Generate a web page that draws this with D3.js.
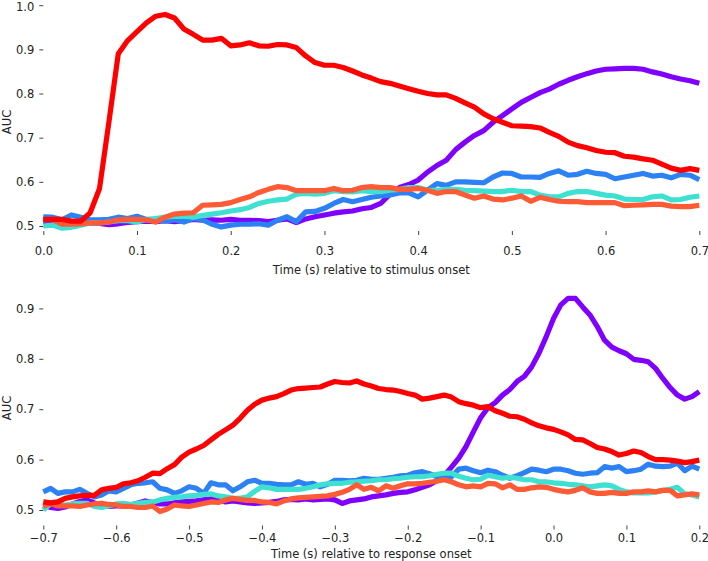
<!DOCTYPE html>
<html><head><meta charset="utf-8">
<script src="https://cdn.jsdelivr.net/npm/d3@7"></script>
<style>
html,body{margin:0;padding:0;background:#fff;}
svg text{font-family:"DejaVu Sans",sans-serif;}
</style></head>
<body><svg id="c" width="708" height="561"></svg>
<script>
// ---------- DATA ----------
const stimStart = 0.0, stimStep = 0.01;
const respStart = -0.7, respStep = 0.01;

const stimPurple = [0.51,0.51,0.508,0.507,0.508,0.507,0.506,0.503,0.505,0.508,0.51,0.511,0.51,0.512,0.51,0.512,0.515,0.513,0.514,0.513,0.515,0.513,0.513,0.512,0.51,0.513,0.516,0.508,0.516,0.521,0.525,0.529,0.532,0.534,0.539,0.542,0.551,0.572,0.587,0.594,0.604,0.622,0.637,0.649,0.673,0.69,0.705,0.716,0.735,0.75,0.765,0.78,0.791,0.802,0.81,0.821,0.83,0.838,0.845,0.851,0.855,0.856,0.857,0.857,0.855,0.849,0.844,0.838,0.833,0.829,0.823];
const stimBlue = [0.521,0.520,0.514,0.525,0.520,0.514,0.514,0.515,0.520,0.517,0.522,0.515,0.515,0.511,0.514,0.509,0.517,0.514,0.504,0.498,0.502,0.504,0.504,0.505,0.502,0.513,0.521,0.510,0.532,0.533,0.540,0.551,0.560,0.555,0.560,0.565,0.568,0.570,0.575,0.575,0.566,0.581,0.596,0.592,0.600,0.600,0.599,0.598,0.611,0.620,0.619,0.611,0.611,0.610,0.619,0.625,0.615,0.617,0.624,0.619,0.617,0.607,0.611,0.615,0.619,0.613,0.615,0.609,0.617,0.615,0.605];
const stimCyan = [0.500,0.502,0.495,0.497,0.502,0.507,0.507,0.509,0.512,0.512,0.509,0.514,0.517,0.520,0.522,0.522,0.520,0.524,0.527,0.530,0.534,0.537,0.542,0.551,0.556,0.559,0.561,0.572,0.574,0.572,0.574,0.580,0.578,0.577,0.580,0.578,0.578,0.581,0.583,0.587,0.587,0.581,0.581,0.583,0.583,0.581,0.580,0.579,0.578,0.578,0.581,0.578,0.578,0.570,0.566,0.566,0.574,0.578,0.578,0.574,0.570,0.568,0.561,0.560,0.560,0.566,0.568,0.559,0.560,0.565,0.568];
const stimOrange = [0.514,0.515,0.504,0.504,0.505,0.507,0.507,0.509,0.514,0.515,0.515,0.514,0.509,0.520,0.527,0.529,0.530,0.547,0.548,0.549,0.553,0.560,0.566,0.576,0.583,0.589,0.587,0.580,0.580,0.580,0.580,0.585,0.580,0.581,0.587,0.589,0.587,0.587,0.583,0.583,0.585,0.581,0.574,0.578,0.578,0.570,0.563,0.568,0.561,0.559,0.563,0.568,0.556,0.565,0.560,0.556,0.555,0.555,0.553,0.553,0.553,0.553,0.546,0.547,0.548,0.549,0.549,0.545,0.544,0.544,0.547];
const stimRed = [0.515,0.515,0.515,0.511,0.511,0.530,0.585,0.735,0.890,0.920,0.940,0.960,0.975,0.979,0.971,0.946,0.934,0.921,0.921,0.925,0.908,0.910,0.915,0.908,0.907,0.911,0.910,0.904,0.885,0.870,0.864,0.864,0.859,0.851,0.842,0.835,0.827,0.823,0.817,0.811,0.805,0.800,0.797,0.797,0.789,0.779,0.769,0.754,0.743,0.735,0.727,0.726,0.725,0.722,0.712,0.703,0.690,0.682,0.677,0.671,0.667,0.666,0.658,0.656,0.652,0.649,0.640,0.631,0.626,0.630,0.626];

const respPurple = [0.51,0.505,0.503,0.506,0.512,0.517,0.52,0.514,0.51,0.507,0.508,0.508,0.51,0.514,0.518,0.515,0.512,0.512,0.514,0.516,0.517,0.518,0.52,0.522,0.52,0.516,0.518,0.516,0.514,0.513,0.514,0.515,0.517,0.52,0.521,0.52,0.522,0.52,0.521,0.522,0.52,0.513,0.518,0.52,0.522,0.526,0.528,0.53,0.533,0.535,0.536,0.54,0.545,0.55,0.558,0.568,0.585,0.603,0.626,0.655,0.683,0.703,0.713,0.728,0.739,0.755,0.765,0.784,0.811,0.844,0.88,0.907,0.92,0.92,0.903,0.887,0.864,0.837,0.823,0.816,0.81,0.799,0.797,0.794,0.781,0.761,0.743,0.728,0.72,0.725,0.735];
const respBlue = [0.536,0.543,0.533,0.536,0.536,0.541,0.533,0.526,0.530,0.538,0.536,0.543,0.550,0.553,0.554,0.556,0.543,0.540,0.533,0.538,0.546,0.543,0.533,0.554,0.550,0.550,0.538,0.546,0.556,0.559,0.553,0.553,0.551,0.550,0.550,0.556,0.551,0.553,0.546,0.551,0.559,0.559,0.558,0.559,0.563,0.561,0.561,0.563,0.565,0.568,0.569,0.574,0.576,0.572,0.566,0.565,0.566,0.581,0.583,0.578,0.574,0.579,0.576,0.569,0.563,0.568,0.574,0.581,0.579,0.576,0.581,0.581,0.578,0.573,0.571,0.573,0.574,0.586,0.583,0.586,0.576,0.578,0.581,0.591,0.587,0.586,0.587,0.593,0.578,0.587,0.581];
const respCyan = [0.500,0.513,0.512,0.510,0.512,0.513,0.513,0.507,0.505,0.508,0.512,0.513,0.511,0.513,0.515,0.516,0.520,0.523,0.525,0.526,0.528,0.529,0.531,0.532,0.528,0.526,0.523,0.523,0.526,0.537,0.546,0.544,0.541,0.541,0.541,0.541,0.543,0.546,0.550,0.552,0.553,0.553,0.555,0.556,0.557,0.558,0.560,0.560,0.562,0.563,0.565,0.566,0.566,0.568,0.571,0.573,0.573,0.567,0.563,0.560,0.561,0.569,0.566,0.563,0.565,0.563,0.560,0.560,0.556,0.556,0.554,0.553,0.551,0.550,0.548,0.546,0.548,0.550,0.548,0.541,0.536,0.534,0.534,0.534,0.536,0.539,0.541,0.545,0.532,0.530,0.526];
const respOrange = [0.507,0.513,0.508,0.508,0.508,0.507,0.510,0.512,0.513,0.511,0.510,0.507,0.507,0.505,0.505,0.508,0.497,0.502,0.510,0.508,0.507,0.510,0.513,0.516,0.515,0.520,0.523,0.521,0.519,0.519,0.516,0.515,0.512,0.518,0.522,0.524,0.525,0.526,0.527,0.528,0.531,0.535,0.541,0.550,0.541,0.545,0.538,0.548,0.543,0.548,0.552,0.552,0.553,0.555,0.557,0.560,0.556,0.550,0.546,0.548,0.546,0.553,0.552,0.544,0.550,0.541,0.541,0.544,0.546,0.545,0.541,0.538,0.536,0.539,0.544,0.536,0.533,0.533,0.535,0.533,0.533,0.536,0.536,0.538,0.536,0.539,0.539,0.528,0.530,0.532,0.530];
const respRed = [0.516,0.514,0.516,0.523,0.526,0.528,0.529,0.529,0.540,0.543,0.545,0.552,0.554,0.558,0.565,0.573,0.572,0.582,0.590,0.605,0.615,0.621,0.628,0.639,0.650,0.659,0.668,0.682,0.698,0.710,0.718,0.722,0.725,0.731,0.738,0.741,0.742,0.743,0.744,0.750,0.755,0.753,0.752,0.756,0.750,0.746,0.741,0.739,0.738,0.735,0.731,0.728,0.720,0.722,0.725,0.728,0.724,0.715,0.711,0.708,0.703,0.705,0.697,0.692,0.686,0.685,0.680,0.673,0.667,0.663,0.660,0.655,0.649,0.640,0.639,0.632,0.624,0.621,0.616,0.609,0.612,0.617,0.614,0.606,0.600,0.600,0.599,0.597,0.594,0.596,0.599];

const seriesColors = ["#8000ff", "#2c82f4", "#3ee0d2", "#ff5a36", "#ff0000"];
const stimTicksX = [0.0,0.1,0.2,0.3,0.4,0.5,0.6,0.7];
const stimTicksY = [0.5,0.6,0.7,0.8,0.9,1.0];
const respTicksX = [-0.7,-0.6,-0.5,-0.4,-0.3,-0.2,-0.1,0.0,0.1,0.2];
const respTicksY = [0.5,0.6,0.7,0.8,0.9];
const stimLabel = "Time (s) relative to stimulus onset";
const respLabel = "Time (s) relative to response onset";
const yLabel = "AUC";

// ---------- DRAW ----------
const svg = d3.select("#c");
const FONT = 11.5;

function panel(cfg) {
  const g = svg.append("g");
  const x = d3.scaleLinear().domain(cfg.xDomain).range([43.3, 699.3]);
  const y = d3.scaleLinear().domain([0.5, cfg.yTop]).range([cfg.y05, cfg.yTopPx]);
  const line = d3.line()
    .x((d, i) => x(cfg.start + i * cfg.step))
    .y(d => y(d));
  cfg.series.forEach((s, k) => {
    g.append("path").datum(s)
      .attr("d", line)
      .attr("fill", "none")
      .attr("stroke", seriesColors[k])
      .attr("stroke-width", 5.2)
      .attr("stroke-linejoin", "round")
      .attr("stroke-linecap", "butt");
  });
  const xa = g.append("g").attr("transform", `translate(0,${cfg.axisY})`)
    .call(d3.axisBottom(x).tickValues(cfg.ticksX).tickFormat(d3.format(".1f")).tickSize(4).tickPadding(cfg.xPad));
  const ya = g.append("g").attr("transform", `translate(43.3,0)`)
    .call(d3.axisLeft(y).tickValues(cfg.ticksY).tickFormat(d3.format(".1f")).tickSize(4).tickPadding(5));
  [xa, ya].forEach(a => {
    a.select(".domain").remove();
    a.selectAll(".tick line").attr("stroke", "#444").attr("stroke-width", 1);
    a.selectAll(".tick text").attr("fill", "#222").style("font-size", FONT + "px").style("font-family", "DejaVu Sans");
  });
  // keep the topmost y label fully inside the canvas
  ya.selectAll(".tick text").filter(d => y(d) < 8).attr("dy", "0.45em");
  g.append("text").attr("x", 371.3).attr("y", cfg.titleY).attr("text-anchor", "middle")
    .attr("dominant-baseline", "middle").style("font-size", FONT + "px").attr("fill", "#222").text(cfg.title);
  g.append("text").attr("transform", `translate(7,${cfg.ylabY}) rotate(-90)`).attr("text-anchor", "middle")
    .attr("dominant-baseline", "middle").style("font-size", FONT + "px").attr("fill", "#222").text(yLabel);
}

panel({xDomain:[0,0.7], yTop:1.0, y05:226, yTopPx:5.2, axisY:231, xPad:12,
  series:[stimPurple, stimBlue, stimCyan, stimOrange, stimRed], start:stimStart, step:stimStep,
  ticksX:stimTicksX, ticksY:stimTicksY, title:stimLabel, titleY:270, ylabY:122});
panel({xDomain:[-0.7,0.2], yTop:0.9, y05:510, yTopPx:308.4, axisY:525.5, xPad:4,
  series:[respPurple, respBlue, respCyan, respOrange, respRed], start:respStart, step:respStep,
  ticksX:respTicksX, ticksY:respTicksY, title:respLabel, titleY:554, ylabY:408});
</script></body></html>
